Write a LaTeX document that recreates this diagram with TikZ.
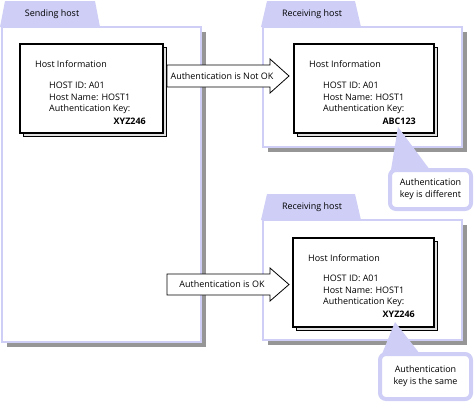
\documentclass[tikz,border=0pt]{standalone}
\usepackage{fontspec}
\setmainfont{Open Sans}
\definecolor{lav}{RGB}{206,206,246}
\definecolor{shade}{RGB}{150,150,150}

\begin{document}
\begin{tikzpicture}[x=1bp,y=-1bp,font=\fontsize{9}{12}\selectfont,
	tabshape/.style={fill=lav},
	panel/.style={draw=lav,line width=2bp,fill=white},
	panelshadow/.style={fill=shade},
	infofront/.style={draw,line width=1.2bp,fill=white},
	infoside/.style={draw,line width=0.8bp,fill=gray!25},
	infotext/.style={anchor=west,inner sep=0pt},
	keytext/.style={anchor=east,inner sep=0pt,font=\fontsize{9}{12}\selectfont\bfseries},
	bigarrow/.style={draw,line width=0.8bp,fill=white},
	bubble/.style={draw=lav,line width=4bp,fill=white,rounded corners=6bp},
	bubbletext/.style={align=center,inner sep=0pt}]
			\useasboundingbox (0,0) rectangle (474,402);
			% sending host
			\fill[panelshadow] (7,32) rectangle (206,347);
			\draw[panel] (2,27) rectangle (201,342);
			\fill[tabshape] (0,27)--(5,1)--(95,1)--(100,27)--cycle;
			\node [inner sep=0pt] (sendtab) at (52,14) {Sending host};
			% receiving host, not OK
			\fill[panelshadow] (268,32) rectangle (467,152);
			\draw[panel] (263,27) rectangle (462,147);
			\fill[tabshape] (261,27)--(267,1)--(355,1)--(361,27)--cycle;
			\node [inner sep=0pt] (recvtaba) at (312,14) {Receiving host};
			% receiving host, OK
			\fill[panelshadow] (268,225) rectangle (467,345);
			\draw[panel] (263,220) rectangle (462,340);
			\fill[tabshape] (261,220)--(267,194)--(355,194)--(361,220)--cycle;
			\node [inner sep=0pt] (recvtabb) at (312,207) {Receiving host};
			% arrows
			\draw[bigarrow] (167,65)--(270,65)--(270,59)--(289,76)--(270,93)--(270,87)--(167,87)--cycle;
			\node [inner sep=0pt] (notok) at (222,76) {Authentication is Not OK};
			\draw[bigarrow] (167,274)--(270,274)--(270,268)--(289,284.5)--(270,301)--(270,295)--(167,295)--cycle;
			\node [inner sep=0pt] (isok) at (222,284.5) {Authentication is OK};
			% host information boxes
			\draw[infoside] (23,47) rectangle (166,136);
			\draw[infofront] (20,44) rectangle (163,133);
			\node [infotext] (sendtitle) at (35,64) {Host Information};
			\node [infotext] (sendid) at (49,85) {HOST ID: A01};
			\node [infotext] (sendname) at (49,97) {Host Name: HOST1};
			\node [infotext] (sendkeylabel) at (49,109) {Authentication Key:};
			\node [keytext] (sendkey) at (146,121) {XYZ246};
			\draw[infoside] (297,47) rectangle (437,136);
			\draw[infofront] (294,44) rectangle (434,133);
			\node [infotext] (recvatitle) at (309,64) {Host Information};
			\node [infotext] (recvaid) at (323,85) {HOST ID: A01};
			\node [infotext] (recvaname) at (323,97) {Host Name: HOST1};
			\node [infotext] (recvakeylabel) at (323,109) {Authentication Key:};
			\node [keytext] (recvakey) at (416,121) {ABC123};
			\draw[infoside] (296,241) rectangle (437,330);
			\draw[infofront] (293,238) rectangle (434,327);
			\node [infotext] (recvbtitle) at (308,258) {Host Information};
			\node [infotext] (recvbid) at (323,278) {HOST ID: A01};
			\node [infotext] (recvbname) at (323,290) {Host Name: HOST1};
			\node [infotext] (recvbkeylabel) at (323,302) {Authentication Key:};
			\node [keytext] (recvbkey) at (415,314) {XYZ246};
			% callouts
			\fill[lav] (398,127)--(391,170)--(430,170)--cycle;
			\draw[bubble] (390,170) rectangle (471,209);
			\node [bubbletext] (differs) at (430.5,189.5) {Authentication\\key is different};
			\fill[lav] (395,322)--(382,354)--(420,354)--cycle;
			\draw[bubble] (380,354) rectangle (471,399);
			\node [bubbletext] (same) at (425.5,376.5) {Authentication\\key is the same};
\end{tikzpicture}
\end{document}
